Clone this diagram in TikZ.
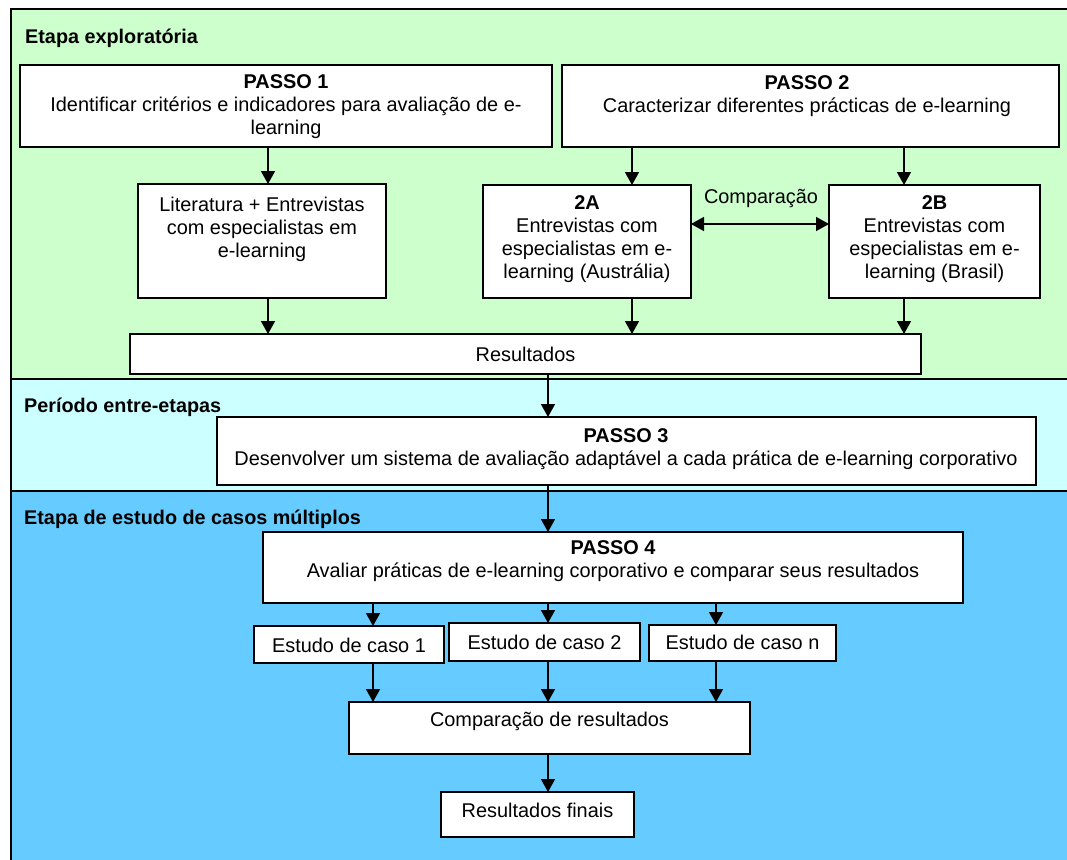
\documentclass[tikz,border=0pt]{standalone}
\usepackage{fontspec}
\setmainfont{Liberation Sans}
\usetikzlibrary{arrows.meta}
\definecolor{bandA}{HTML}{CCFFCC}
\definecolor{bandB}{HTML}{CCFFFF}
\definecolor{bandC}{HTML}{66CCFF}
\begin{document}
\begin{tikzpicture}[x=1bp,y=-1bp,
  bx/.style={draw, fill=white, line width=1.5bp, inner sep=0pt, outer sep=0pt, anchor=north west},
  band/.style={draw, line width=1.5bp},
  txt/.style={align=center, inner sep=0pt, font=\fontsize{19.9bp}{23bp}\selectfont},
  hd/.style={anchor=west, inner sep=0pt, font=\bfseries\fontsize{19.8bp}{23bp}\selectfont},
  arr/.style={line width=1.6bp, -{Triangle[width=14bp,length=13bp]}},
  darr/.style={line width=1.6bp, {Triangle[width=14bp,length=13bp]}-{Triangle[width=14bp,length=13bp]}}
]
\useasboundingbox (0,0) rectangle (1067,860);
\clip (0,0) rectangle (1067,860);
% bands
\draw[band, fill=bandA] (11,9) rectangle (1075,379);
\draw[band, fill=bandB] (11,379) rectangle (1075,491);
\draw[band, fill=bandC] (11,491) rectangle (1075,870);
\node[hd] (h1) at (25,38) {Etapa exploratória};
\node[hd] (h2) at (24,407) {Período entre-etapas};
\node[hd] (h3) at (24,519) {Etapa de estudo de casos múltiplos};
% column coordinates
\coordinate (cA) at (268,0);
\coordinate (cB) at (632,0);
\coordinate (cC) at (904,0);
\coordinate (cM) at (548,0);
\coordinate (cE) at (373,0);
\coordinate (cN) at (716,0);
% boxes
\node[bx, minimum width=532bp, minimum height=82bp] (p1) at (20,65) {};
\node[txt] (p1t) at (286,107) {\textbf{PASSO 1}\\Identificar critérios e indicadores para avaliação de e-\\learning};
\node[bx, minimum width=497bp, minimum height=82bp] (p2) at (562,65) {};
\node[txt] (p2t) at (807,96) {\textbf{PASSO 2}\\Caracterizar diferentes prácticas de e-learning};
\node[bx, minimum width=248bp, minimum height=114bp] (lit) at (138,184) {};
\node[txt] (litt) at (262,229) {Literatura + Entrevistas\\com especialistas em\\e-learning};
\node[bx, minimum width=208bp, minimum height=113bp] (a2) at (483,185) {};
\node[txt] (a2t) at (587,239.5) {\textbf{2A}\\Entrevistas com\\especialistas em e-\\learning (Austrália)};
\node[bx, minimum width=211bp, minimum height=113bp] (b2) at (829,185) {};
\node[txt] (b2t) at (934.5,239.5) {\textbf{2B}\\Entrevistas com\\especialistas em e-\\learning (Brasil)};
\node[bx, minimum width=791bp, minimum height=40bp] (res) at (130,334) {};
\node[txt] (rest) at (525.5,354) {Resultados};
\node[bx, minimum width=819bp, minimum height=68bp] (p3) at (217,417) {};
\node[txt] (p3t) at (626,449.5) {\textbf{PASSO 3}\\Desenvolver um sistema de avaliação adaptável a cada prática de e-learning corporativo};
\node[bx, minimum width=700bp, minimum height=71bp] (p4) at (263,532) {};
\node[txt] (p4t) at (613,561) {\textbf{PASSO 4}\\Avaliar práticas de e-learning corporativo e comparar seus resultados};
\node[bx, minimum width=190bp, minimum height=37bp] (e1) at (254,626) {};
\node[txt] (e1t) at (349,645.5) {Estudo de caso 1};
\node[bx, minimum width=191bp, minimum height=38bp] (e2) at (449,623) {};
\node[txt] (e2t) at (544.5,642.5) {Estudo de caso 2};
\node[bx, minimum width=187bp, minimum height=36bp] (en) at (649,625) {};
\node[txt] (ent) at (742.5,642.5) {Estudo de caso n};
\node[bx, minimum width=401bp, minimum height=52bp] (cmp) at (349,702) {};
\node[txt] (cmpt) at (549.5,721) {Comparação de resultados};
\node[bx, minimum width=193bp, minimum height=45bp] (fin) at (441,792) {};
\node[txt] (fint) at (537.5,810) {Resultados finais};
% arrows
\draw[arr] (p1.south -| cA) -- (lit.north -| cA);
\draw[arr] (p2.south -| cB) -- (a2.north -| cB);
\draw[arr] (p2.south -| cC) -- (b2.north -| cC);
\draw[darr] (a2.east |- 0,224) -- (b2.west |- 0,224);
\node[txt] (cmplbl) at (761,198) {Comparação};
\draw[arr] (lit.south -| cA) -- (res.north -| cA);
\draw[arr] (a2.south -| cB) -- (res.north -| cB);
\draw[arr] (b2.south -| cC) -- (res.north -| cC);
\draw[arr] (res.south -| cM) -- (p3.north -| cM);
\draw[arr] (p3.south -| cM) -- (p4.north -| cM);
\draw[arr] (p4.south -| cE) -- (e1.north -| cE);
\draw[arr] (p4.south -| cM) -- (e2.north -| cM);
\draw[arr] (p4.south -| cN) -- (en.north -| cN);
\draw[arr] (e1.south -| cE) -- (cmp.north -| cE);
\draw[arr] (e2.south -| cM) -- (cmp.north -| cM);
\draw[arr] (en.south -| cN) -- (cmp.north -| cN);
\draw[arr] (cmp.south -| cM) -- (fin.north -| cM);
\end{tikzpicture}
\end{document}
